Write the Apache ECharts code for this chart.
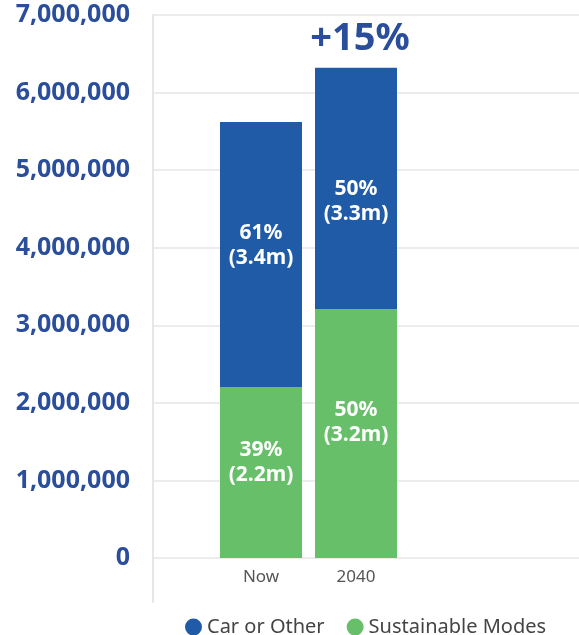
<!DOCTYPE html>
<html>
<head>
<meta charset="utf-8">
<script src="https://cdn.jsdelivr.net/npm/echarts@6/dist/echarts.min.js"></script>
<style>
html,body{margin:0;padding:0;background:#fff;}
#c{width:579px;height:635px;}
</style>
</head>
<body>
<div id="c"></div>
<script>
// ---- data ----
const categories = ['Now', '2040'];
const seriesNames = ['Car or Other', 'Sustainable Modes'];
const carValues = [3420000, 3110000];
const sustainableValues = [2200000, 3210000];
const carLabels = ['61%\n(3.4m)', '50%\n(3.3m)'];
const sustainableLabels = ['39%\n(2.2m)', '50%\n(3.2m)'];
const growthLabel = '+15%';
const yTicks = [0, 1000000, 2000000, 3000000, 4000000, 5000000, 6000000, 7000000];

// ---- styles ----
const BLUE = '#205BA8';
const GREEN = '#67BF6A';
const AXIS_BLUE = '#2A4E9B';
const GRID_GRAY = '#e6e6e6';
const FONT = '"Noto Sans", sans-serif';
const carOffsets = [[0, -9], [0, 13]];
const susOffsets = [[0, -10], [0, -11]];

const yMin = yTicks[0], yMax = yTicks[yTicks.length - 1], yInt = yTicks[1] - yTicks[0];

const xCats = categories.concat(['']);

function fmt(v) { return v.toString().replace(/\B(?=(\d{3})+(?!\d))/g, ','); }

const carData = categories.map((c, i) => ({
  value: carValues[i],
  label: { show: true, position: 'inside', offset: carOffsets[i], formatter: carLabels[i] }
}));
const susData = categories.map((c, i) => ({
  value: sustainableValues[i],
  label: { show: true, position: 'inside', offset: susOffsets[i], formatter: sustainableLabels[i] }
}));

const chart = echarts.init(document.getElementById('c'), null, { renderer: 'canvas' });
chart.setOption({
  animation: false,
  textStyle: { fontFamily: FONT },
  legend: {
    data: [seriesNames[0], seriesNames[1]],
    left: 180, top: 612,
    icon: 'circle', itemWidth: 17, itemHeight: 17, itemGap: 22,
    textStyle: { fontSize: 20, color: '#444', fontFamily: FONT }
  },
  grid: [
    { left: 153, right: 0, top: 15, bottom: 77, containLabel: false },
    { left: 213.5, width: 285, top: 15, bottom: 77, containLabel: false },
    { left: 153, width: 10, top: 15, bottom: 33, containLabel: false }
  ],
  xAxis: [
    { gridIndex: 0, type: 'category', data: [''], show: false },
    { gridIndex: 1, type: 'category', data: xCats,
      axisLine: { show: false }, axisTick: { show: false },
      axisLabel: { color: '#555', fontSize: 17, margin: 11, fontFamily: FONT } },
    { gridIndex: 2, type: 'category', data: [''], show: false }
  ],
  yAxis: [
    { gridIndex: 0, type: 'value', min: yMin, max: yMax, interval: yInt,
      axisLine: { show: false }, axisTick: { show: false },
      splitLine: { lineStyle: { color: GRID_GRAY, width: 1.5 } },
      axisLabel: { color: AXIS_BLUE, fontSize: 25, fontWeight: 'bold', margin: 23, fontFamily: FONT,
        formatter: v => fmt(v) } },
    { gridIndex: 1, type: 'value', min: yMin, max: yMax, interval: yInt, show: false, splitLine: { show: false } },
    { gridIndex: 2, type: 'value', min: 0, max: 1, show: true,
      axisLine: { show: true, lineStyle: { color: GRID_GRAY, width: 2 } },
      axisTick: { show: false }, axisLabel: { show: false }, splitLine: { show: false } }
  ],
  series: [
    {
      name: seriesNames[1], type: 'bar', stack: 'total', xAxisIndex: 1, yAxisIndex: 1,
      barWidth: 82, itemStyle: { color: GREEN },
      label: { color: '#fff', fontSize: 21, fontWeight: 'bold', lineHeight: 25, fontFamily: FONT },
      data: susData
    },
    {
      name: seriesNames[0], type: 'bar', stack: 'total', xAxisIndex: 1, yAxisIndex: 1,
      barWidth: 82, itemStyle: { color: BLUE },
      label: { color: '#fff', fontSize: 21, fontWeight: 'bold', lineHeight: 25, fontFamily: FONT },
      data: carData
    },
    {
      name: 'growth', type: 'bar', stack: 'total', xAxisIndex: 1, yAxisIndex: 1,
      barWidth: 82, itemStyle: { color: 'transparent' }, silent: true,
      data: categories.map((c, i) => i === categories.length - 1 ? {
        value: 0,
        label: { show: true, position: 'top', distance: 10, offset: [4, 0], formatter: growthLabel,
          color: AXIS_BLUE, fontSize: 38, fontWeight: 'bold', fontFamily: FONT }
      } : { value: 0 })
    }
  ]
});
</script>
</body>
</html>
